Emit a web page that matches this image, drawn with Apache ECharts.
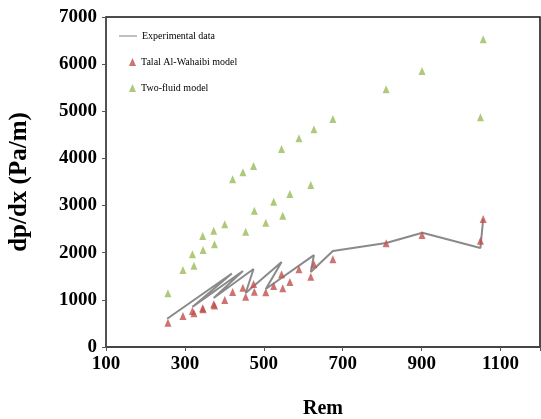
<!DOCTYPE html>
<html><head><meta charset="utf-8">
<script src="https://cdn.jsdelivr.net/npm/echarts@6/dist/echarts.min.js"></script>
<style>html,body{margin:0;padding:0;background:#fff}#c{width:541px;height:419px}</style>
</head><body><div id="c"></div>
<script>
// Experimental data (line vertices, in measurement order)
const expRe = [255, 419, 319, 447, 373, 474, 454, 545, 505, 627, 619, 675, 810, 902, 1049, 1056];
const expDp = [600, 1560, 850, 1612, 1040, 1655, 1146, 1803, 1230, 1950, 1590, 2036, 2206, 2425, 2100, 2715];
// Model points
const modelRe = [257, 295, 319, 323, 345, 346, 373, 375, 401, 421, 447, 454, 474, 476, 505, 525, 545, 548, 566, 589, 619, 627, 675, 810, 901, 1049, 1056];
const talalDp = [515, 658, 764, 715, 821, 800, 906, 880, 997, 1167, 1258, 1067, 1336, 1173, 1160, 1294, 1542, 1245, 1379, 1648, 1491, 1754, 1860, 2200, 2376, 2255, 2715];
const twoFluidDp = [1140, 1633, 1966, 1725, 2355, 2058, 2467, 2179, 2603, 3557, 3706, 2446, 3840, 2891, 2637, 3082, 4200, 2785, 3246, 4427, 3437, 4618, 4837, 5467, 5855, 4873, 6527];
const xTicks = [100, 300, 500, 700, 900, 1100];

const pair = (xs, ys) => xs.map((x, i) => [x, ys[i]]);
const serif = '"Liberation Serif", "Times New Roman", serif';
const legText = { fontFamily: serif, fontSize: 10, color: '#000' };
const chart = echarts.init(document.getElementById('c'));
chart.setOption({
  animation: false,
  backgroundColor: '#fff',
  grid: { left: 106, right: 1, top: 17, bottom: 72, show: true, borderColor: '#111', borderWidth: 1.5,
    outerBoundsMode: 'none', containLabel: false },
  legend: [
    { orient: 'vertical', left: 114, top: 26, itemWidth: 18, itemHeight: 8, textStyle: legText,
      data: [{ name: 'Experimental data', icon: 'path://M0,4L20,4L20,5.2L0,5.2Z' }] },
    { orient: 'vertical', left: 124, top: 52, itemGap: 16, itemWidth: 7, itemHeight: 8, textStyle: legText,
      data: [{ name: 'Talal Al-Wahaibi model', icon: 'triangle' }, { name: 'Two-fluid model', icon: 'triangle' }] }
  ],
  xAxis: {
    type: 'value', min: 100, max: 1200, interval: 200,
    name: 'Rem', nameLocation: 'middle', nameGap: 52,
    nameTextStyle: { fontFamily: serif, fontWeight: 'bold', fontSize: 20, color: '#000' },
    axisLine: { lineStyle: { color: '#444', width: 1.5 } },
    axisTick: { show: true, length: 4, lineStyle: { color: '#555' } },
    axisLabel: { fontFamily: serif, fontWeight: 'bold', fontSize: 19, color: '#000', margin: 8,
      formatter: v => xTicks.includes(v) ? String(v) : '' },
    splitLine: { show: false }
  },
  yAxis: {
    type: 'value', min: 0, max: 7000, interval: 1000,
    name: 'dp/dx (Pa/m)', nameLocation: 'middle', nameGap: 74, nameRotate: 90,
    nameTextStyle: { fontFamily: serif, fontWeight: 'bold', fontSize: 25, color: '#000' },
    axisLine: { show: true, lineStyle: { color: '#555', width: 1.5 } },
    axisTick: { show: true, length: 4, lineStyle: { color: '#555' } },
    axisLabel: { fontFamily: serif, fontWeight: 'bold', fontSize: 19, color: '#000', margin: 9,
      formatter: v => String(v) },
    splitLine: { show: false }
  },
  series: [
    { name: 'Experimental data', type: 'line', data: pair(expRe, expDp), showSymbol: false, symbol: 'none',
      lineStyle: { color: '#8a8a8a', width: 2 }, itemStyle: { color: '#8a8a8a' }, z: 2 },
    { name: 'Talal Al-Wahaibi model', type: 'scatter', data: pair(modelRe, talalDp), symbol: 'triangle', symbolSize: [7, 8],
      itemStyle: { color: '#C0504D' }, z: 3 },
    { name: 'Two-fluid model', type: 'scatter', data: pair(modelRe, twoFluidDp), symbol: 'triangle', symbolSize: [7, 8],
      itemStyle: { color: '#9BBB59' }, z: 3 }
  ]
});
</script></body></html>
